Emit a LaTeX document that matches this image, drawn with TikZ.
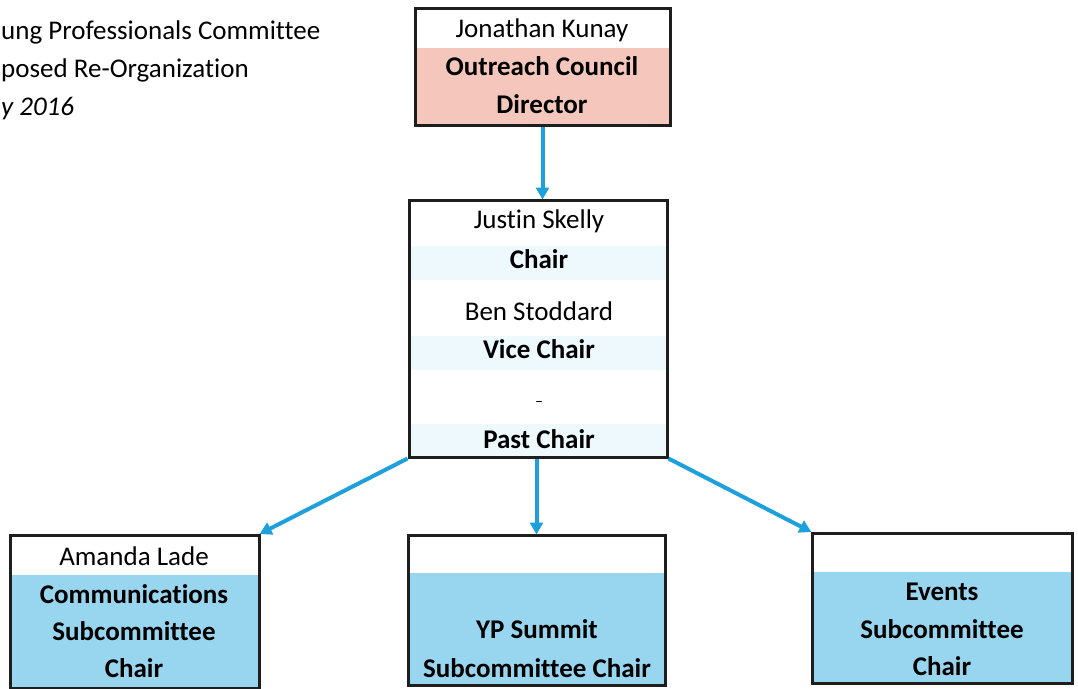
\documentclass[tikz,border=0pt]{standalone}
\usepackage{fontspec}
\setmainfont{Carlito}[Ligatures=NoCommon]
\usetikzlibrary{arrows.meta}
\definecolor{boxline}{RGB}{30,30,30}
\definecolor{pinkfill}{RGB}{245,199,188}
\definecolor{bluefill}{RGB}{152,213,239}
\definecolor{bandfill}{RGB}{238,249,253}
\definecolor{arrowblue}{RGB}{30,160,220}
\tikzset{
  frame/.style={draw=boxline, line width=3pt, rectangle, inner sep=0pt},
  txt/.style={anchor=base, inner sep=0pt, font=\fontsize{27}{30}\selectfont},
  btxt/.style={txt, font=\fontsize{27}{30}\selectfont\bfseries},
  head/.style={anchor=base west, inner sep=0pt, font=\fontsize{27}{30}\selectfont},
  link/.style={draw=arrowblue, line width=4pt, -{Triangle[length=12pt,width=13pt]}, shorten >=-1pt},
}
\begin{document}
\begin{tikzpicture}[x=1pt,y=-1pt]
\useasboundingbox (0,0) rectangle (1078,688);
% heading (cropped)
\node[head] (h1) at (1,39) {ung Professionals Committee};
\node[head] (h2) at (1,77) {posed Re-Organization};
\node[head, font=\fontsize{27}{30}\selectfont\itshape] (h3) at (1,115) {y 2016};
% fills
\fill[pinkfill] (415,48) rectangle (670,125);
\fill[bandfill] (410,246) rectangle (668,280);
\fill[bandfill] (410,336) rectangle (668,370);
\fill[bandfill] (410,424) rectangle (668,457);
\fill[bluefill] (10,575) rectangle (259,688);
\fill[bluefill] (408,573) rectangle (665,685);
\fill[bluefill] (812,572) rectangle (1072,683);
% frames
\node[frame, minimum width=255pt, minimum height=117pt] (dir) at (542.5,66.5) {};
\node[frame, minimum width=258pt, minimum height=257pt] (chair) at (538,328.5) {};
\node[frame, minimum width=249pt, minimum height=153pt] (comm) at (134.5,611.5) {};
\node[frame, minimum width=257pt, minimum height=150pt] (yp) at (536.5,610) {};
\node[frame, minimum width=260pt, minimum height=150pt] (ev) at (942,608) {};
% texts
\node[txt] (t1) at (542,37) {Jonathan Kunay};
\node[btxt] (t2) at (542,75) {Outreach Council};
\node[btxt] (t3) at (542,113) {Director};
\node[txt] (t4) at (539,228) {Justin Skelly};
\node[btxt] (t5) at (539,268) {Chair};
\node[txt] (t6) at (539,320) {Ben Stoddard};
\node[btxt] (t7) at (539,358) {Vice Chair};
\node[txt, font=\fontsize{16}{18}\selectfont] (t8) at (539,406) {--};
\node[btxt] (t9) at (539,448) {Past Chair};
\node[txt] (t10) at (134,565) {Amanda Lade};
\node[btxt] (t11) at (134,603) {Communications};
\node[btxt] (t12) at (134,640) {Subcommittee};
\node[btxt] (t13) at (134,677) {Chair};
\node[btxt] (t14) at (537,638) {YP Summit};
\node[btxt] (t15) at (537,677) {Subcommittee Chair};
\node[btxt] (t16) at (942,600) {Events};
\node[btxt] (t17) at (942,638) {Subcommittee};
\node[btxt] (t18) at (942,675) {Chair};
% connectors
\draw[link] (dir.south) -- (dir.south |- chair.north);
\draw[link] (chair.south west) -- (comm.north east);
\draw[link] (chair.south -| yp.north) -- (yp.north);
\draw[link] (chair.south east) -- (ev.north west);
\end{tikzpicture}
\end{document}
